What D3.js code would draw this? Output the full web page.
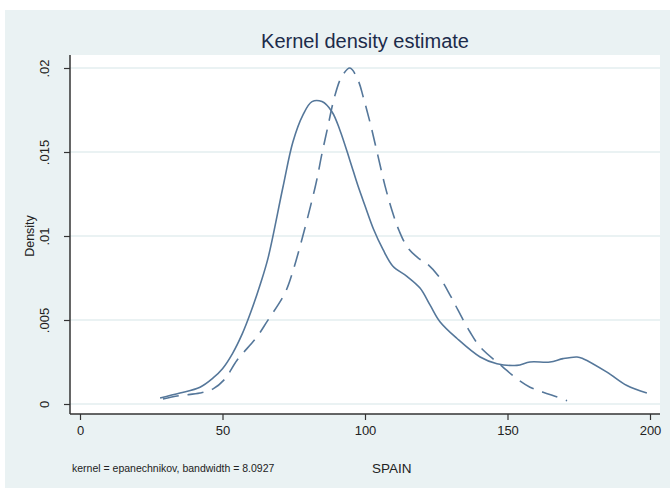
<!DOCTYPE html>
<html>
<head>
<meta charset="utf-8">
<script src="https://cdnjs.cloudflare.com/ajax/libs/d3/7.8.5/d3.min.js"></script>
<title>Kernel density estimate</title>
<style>
body{ margin:0; padding:0; background:#fff; font-family:"Liberation Sans", Arial, sans-serif; }
svg text{ font-family:"Liberation Sans", Arial, sans-serif; }
</style>
</head>
<body>
<div id="chart"></div>
<script>
// solid curve (x, density)
var solidX = [28.1, 35.1, 42.1, 46.7, 50.0, 53.5, 57.0, 60.0, 63.2, 66.0, 71.2, 74.7, 78.2, 81.4, 84.9, 88.4, 91.2, 94.7, 97.5, 100.0, 103.0, 106.3, 109.8, 114.7, 119.3, 122.8, 126.3, 132.3, 140.4, 146.3, 153.3, 157.9, 164.9, 169.5, 174.4, 176.5, 184.9, 191.9, 198.9];
var solidY = [.00036, .00065, .0010, .00155, .0021, .0030, .0042, .0055, .0071, .0087, .0129, .0156, .0172, .0180, .0180, .0174, .0163, .0145, .0130, .0118, .0104, .0092, .0082, .0076, .0069, .0059, .0049, .0039, .0028, .0024, .0023, .0025, .0025, .0027, .0028, .0027, .0019, .0011, .00065];
// dashed curve
var dashX = [29.1, 35.1, 42.1, 46.7, 50.9, 55.1, 62.1, 65.6, 71.9, 74.7, 82.5, 84.9, 86.7, 89.5, 91.9, 94.7, 97.5, 99.5, 102.0, 104.5, 107.0, 109.5, 112.0, 115.0, 118.6, 122.1, 126.3, 129.8, 132.6, 136.8, 140.4, 148.4, 153.3, 157.9, 162.5, 167.7, 170.9];
var dashY = [.0003, .0005, .00065, .0009, .0015, .0026, .0040, .0049, .0066, .0079, .0129, .0149, .0163, .0184, .0195, .0200, .0193, .0182, .0166, .0148, .0130, .0115, .0103, .0093, .0087, .0083, .0075, .0065, .0056, .0043, .0034, .0022, .0015, .0010, .0007, .0004, .0002];

var xTicks = [0, 50, 100, 150, 200];
var yTicks = [0, .005, .01, .015, .02];
var yTickLabels = ["0", ".005", ".01", ".015", ".02"];

var W = 670, H = 490;
var svg = d3.select("#chart").append("svg").attr("width", W).attr("height", H);

// outer background and plot region
svg.append("rect").attr("x", 5).attr("y", 10).attr("width", 665).attr("height", 478).attr("fill", "#eaf2f3");
svg.append("rect").attr("x", 70).attr("y", 55).attr("width", 590).attr("height", 359).attr("fill", "#fff");

var x = d3.scaleLinear().domain([0, 200]).range([80, 650]);
var y = d3.scaleLinear().domain([0, .02]).range([404, 68]);

// grid
svg.append("g").selectAll("line").data(yTicks).enter().append("line")
    .attr("x1", 70).attr("x2", 660)
    .attr("y1", function(d){return y(d);}).attr("y2", function(d){return y(d);})
    .attr("stroke", "#eaf2f3").attr("stroke-width", 2);

// axes
var yAxis = d3.axisLeft(y).tickValues(yTicks).tickSize(6)
    .tickFormat(function(d, i){return yTickLabels[i];});
var gy = svg.append("g").attr("transform", "translate(70,0)").call(yAxis);
gy.select(".domain").attr("d", "M0,55V414");
gy.selectAll(".tick text")
    .attr("transform", "rotate(-90)")
    .attr("x", 0).attr("y", -21).attr("dy", "0")
    .attr("text-anchor", "middle");

var xAxis = d3.axisBottom(x).tickValues(xTicks).tickSize(6).tickPadding(6);
var gx = svg.append("g").attr("transform", "translate(0,414)").call(xAxis);
gx.select(".domain").attr("d", "M70,0H660");

svg.selectAll(".domain").attr("stroke", "#333").attr("stroke-width", 1.5);
svg.selectAll(".tick line").attr("stroke", "#333").attr("stroke-width", 1.2);
svg.selectAll(".tick text").attr("font-size", 13).attr("fill", "#222");

// curves
var line = d3.line().x(function(d){return x(d[0]);}).y(function(d){return y(d[1]);})
    .curve(d3.curveCatmullRom.alpha(0.5));
svg.append("path").datum(d3.zip(solidX, solidY)).attr("d", line)
    .attr("fill", "none").attr("stroke", "#55779a").attr("stroke-width", 1.6);
svg.append("path").datum(d3.zip(dashX, dashY)).attr("d", line)
    .attr("fill", "none").attr("stroke", "#55779a").attr("stroke-width", 1.6)
    .attr("stroke-dasharray", "16,9");

// titles
svg.append("text").attr("x", 365).attr("y", 48).attr("text-anchor", "middle")
    .attr("font-size", 20).attr("fill", "#1c2b4a").text("Kernel density estimate");
svg.append("text").attr("transform", "translate(34,236) rotate(-90)").attr("text-anchor", "middle")
    .attr("font-size", 12.5).attr("fill", "#222").text("Density");
svg.append("text").attr("x", 72).attr("y", 472)
    .attr("font-size", 10.5).attr("fill", "#222").text("kernel = epanechnikov, bandwidth = 8.0927");
svg.append("text").attr("x", 372).attr("y", 473)
    .attr("font-size", 13.5).attr("fill", "#222").text("SPAIN");
</script>
</body>
</html>
